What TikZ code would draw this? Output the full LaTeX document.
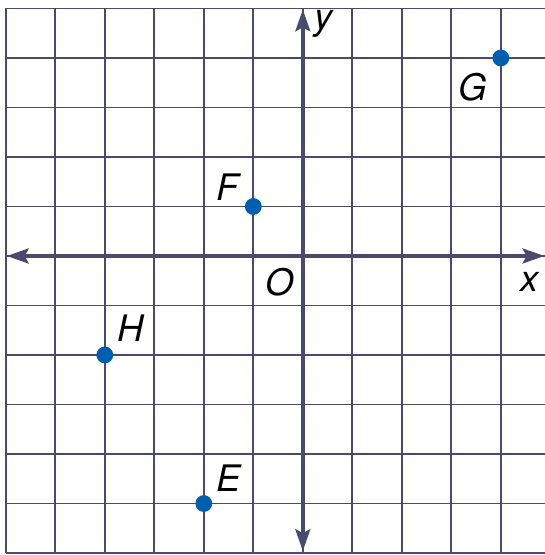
\documentclass[tikz,border=0pt]{standalone}
\usepackage{fontspec}
\setmainfont{TeX Gyre Heros}
\usepackage{xcolor}
\usepackage{tikz}
\usetikzlibrary{arrows.meta}
\definecolor{gridcol}{RGB}{74,74,112}
\definecolor{ptblue}{RGB}{0,94,176}
\tikzset{gridline/.style={draw=gridcol,line width=1.1pt},
  axisline/.style={draw=gridcol,line width=2.2pt,{Stealth[length=0.44cm,width=0.3cm,inset=0.08cm]}-{Stealth[length=0.44cm,width=0.3cm,inset=0.08cm]}},
  pt/.style={circle,fill=ptblue,inner sep=0pt,minimum size=0.34cm},
  lbl/.style={font=\fontsize{21}{24}\selectfont\itshape,inner sep=0pt}}

\begin{document}
\begin{tikzpicture}
        \useasboundingbox (-6.117,-6.04) rectangle (4.889,5.171);
        \clip (-6.117,-6.04) rectangle (4.889,5.171);
        \draw[gridline] (-6,-6) grid (5,5);

        \coordinate (xl) at (-5.98,0);
        \coordinate (xr) at (4.88,0);
        \coordinate (yb) at (0,-5.96);
        \coordinate (yt) at (0,4.98);
        \draw[axisline] (xl) -- (xr);
        \draw[axisline] (yb) -- (yt);

        \node[lbl] (xlab) at (4.58,-0.52) {x};
        \node[lbl] (ylab) at (0.42,4.68) {y};
        \node[lbl] (o) at (-0.46,-0.52) {O};

        \node[pt] (E) at (-2,-5) {};
        \node[pt] (F) at (-1,1) {};
        \node[pt] (G) at (4,4) {};
        \node[pt] (H) at (-4,-2) {};

        \node[lbl] (Elab) at (-1.5,-4.48) {E};
        \node[lbl] (Flab) at (-1.52,1.4) {F};
        \node[lbl] (Glab) at (3.44,3.4) {G};
        \node[lbl] (Hlab) at (-3.48,-1.45) {H};
    \end{tikzpicture}
\end{document}
